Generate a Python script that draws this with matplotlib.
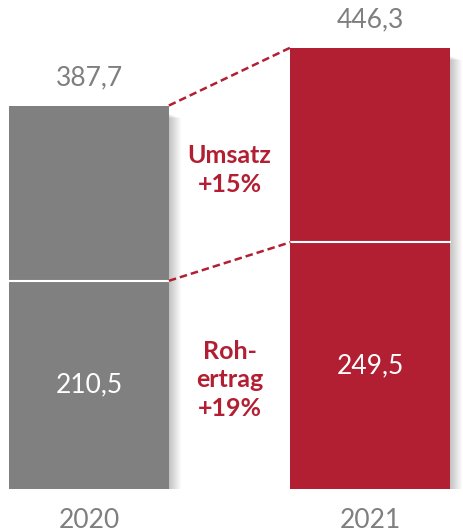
import matplotlib.pyplot as plt
from matplotlib.patches import Rectangle
from matplotlib.transforms import offset_copy

years = ['2020', '2021']
umsatz = [387.7, 446.3]
rohertrag = [210.5, 249.5]
umsatz_labels = ['387,7', '446,3']
rohertrag_labels = ['210,5', '249,5']
growth_umsatz = 'Umsatz\n+15%'
growth_rohertrag = 'Roh-\nertrag\n+19%'

RED = '#b31f32'
GREY = '#808080'
LABEL_GREY = '#7f7f7f'
plt.rcParams['font.family'] = ['Lato', 'DejaVu Sans']

fig = plt.figure(figsize=(4.63, 5.32), dpi=100)
ax = fig.add_axes([0, 43 / 532, 1, 489 / 532])
ax.set_xlim(-0.316, 1.329)
ax.set_ylim(0, 494.4)
ax.axis('off')

w = 0.568
colors = [GREY, RED]
x = [0, 1]

# soft shadow to the right of each bar
for i in range(12):
    for xi, h in zip(x, umsatz):
        tr = offset_copy(ax.transData, fig=fig, x=i + 1, y=-(i + 1) * 0.4, units='dots')
        ax.add_patch(Rectangle((xi - w / 2, 0), w, h - 8, transform=tr,
                               facecolor='black', edgecolor='none',
                               alpha=0.018, zorder=1))

ax.bar(x, umsatz, width=w, color=colors, zorder=2)
# separator between Rohertrag and the rest
for xi, r in zip(x, rohertrag):
    ax.plot([xi - w / 2, xi + w / 2], [r, r], color='white', lw=1.5, zorder=3)

# dashed connectors
ax.plot([x[0] + w / 2, x[1] - w / 2], [umsatz[0], umsatz[1]],
        color=RED, lw=1.8, ls=(0, (3, 1.6)), zorder=3)
ax.plot([x[0] + w / 2, x[1] - w / 2], [rohertrag[0], rohertrag[1]],
        color=RED, lw=1.8, ls=(0, (3, 1.6)), zorder=3)

for xi, u, lab in zip(x, umsatz, umsatz_labels):
    ax.annotate(lab, (xi, u), xytext=(0, 20), textcoords='offset points',
                ha='center', va='center', fontsize=19, color=LABEL_GREY)
for xi, r, lab in zip(x, rohertrag, rohertrag_labels):
    ax.text(xi, r / 2, lab, ha='center', va='center', fontsize=19, color='white')
for xi, yr in zip(x, years):
    ax.annotate(yr, (xi, 0), xytext=(0, -23), textcoords='offset points',
                ha='center', va='center', fontsize=19, color=LABEL_GREY,
                annotation_clip=False)

ax.text(0.5, (umsatz[0] + rohertrag[1]) / 2 + 4, growth_umsatz, ha='center', va='center',
        fontsize=18, fontweight='bold', color=RED, linespacing=1.3)
ax.text(0.5, rohertrag[0] / 2 + 5, growth_rohertrag, ha='center', va='center',
        fontsize=18, fontweight='bold', color=RED, linespacing=1.3)

fig.savefig('out.png', dpi=100)
